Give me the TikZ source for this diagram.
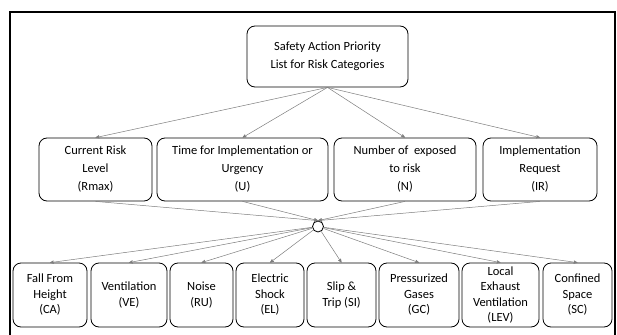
\documentclass[tikz,border=0pt]{standalone}
\usepackage{fontspec}
\setmainfont{Carlito}
\usetikzlibrary{arrows}
\definecolor{edge_gray}{RGB}{125,125,125}

\begin{document}
\begin{tikzpicture}[->,>=stealth',x=1pt,y=-1pt]
    \tikzstyle{box}=[draw=black, line width=0.8pt, rounded corners=8pt, align=center, inner sep=0pt, text=black, font=\fontsize{12.5}{18}\selectfont]
    \tikzstyle{leaf}=[box, minimum height=64pt, font=\fontsize{12.5}{15.5}\selectfont]
    \tikzstyle{link}=[draw=edge_gray, line width=0.5pt]
    \tikzstyle{hubnode}=[draw=black, line width=0.8pt, circle, minimum size=11pt, inner sep=0pt]

    \useasboundingbox (0,0) rectangle (617,334);
    \begin{scope}
      \clip (0,0) rectangle (617,334);
      \draw[-,line width=2pt] (10,345) -- (10,12) -- (615,12) -- (615,345);
    \end{scope}

    % top goal
    \node[box, minimum width=161pt, minimum height=61pt] (goal) at (327.5,56.5) {Safety Action Priority\\List for Risk Categories};

    % criteria
    \node[box, minimum width=113pt, minimum height=63pt] (rmax) at (95.5,169.5)  {Current Risk\\Level\\(Rmax)};
    \node[box, minimum width=171pt, minimum height=63pt] (urg)  at (242.5,169.5) {Time for Implementation or\\Urgency\\(U)};
    \node[box, minimum width=142pt, minimum height=63pt] (num)  at (405,169.5)   {Number of~ exposed\\to risk\\(N)};
    \node[box, minimum width=114pt, minimum height=63pt] (req)  at (540,169.5)   {Implementation\\Request\\(IR)};

    \node[hubnode] (hub) at (318,226.5) {};

    % risk categories
    \node[leaf, minimum width=74pt] (ca)  at (50,295)    {Fall From\\Height\\(CA)};
    \node[leaf, minimum width=76pt] (ve)  at (129,295)   {Ventilation\\(VE)};
    \node[leaf, minimum width=63pt] (ru)  at (201.5,295) {Noise\\(RU)};
    \node[leaf, minimum width=68pt] (el)  at (270,295)   {Electric\\Shock\\(EL)};
    \node[leaf, minimum width=69pt] (si)  at (341.5,295) {Slip \&\\Trip (SI)};
    \node[leaf, minimum width=80pt] (gc)  at (419,295)   {Pressurized\\Gases\\(GC)};
    \node[leaf, minimum width=77pt] (lev) at (500.5,295) {Local\\Exhaust\\Ventilation\\(LEV)};
    \node[leaf, minimum width=69pt] (sc)  at (577.5,295) {Confined\\Space\\(SC)};

    \foreach \c in {rmax,urg,num,req}
      \draw[link] (goal.south) -- (\c.north);
    \foreach \c in {rmax,urg,num,req}
      \draw[link] (\c.south) -- (hub.north);
    \foreach \c in {ca,ve,ru,el,si,gc,lev,sc}
      \draw[link] (hub) -- (\c.north);
\end{tikzpicture}
\end{document}
